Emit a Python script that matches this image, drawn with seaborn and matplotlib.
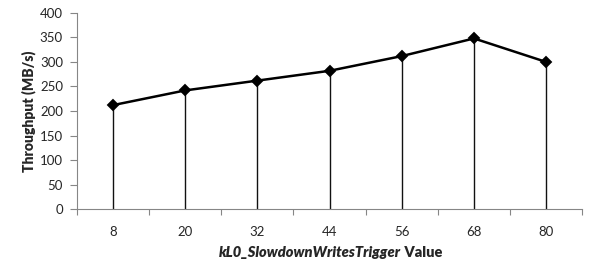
import numpy as np
import pandas as pd
import matplotlib
matplotlib.use('Agg')
import matplotlib.pyplot as plt
import seaborn as sns

categories = ['8', '20', '32', '44', '56', '68', '80']
throughput = [212, 242, 262, 282, 312, 348, 300]

sns.set_style('white')
plt.rcParams['font.family'] = ['Lato', 'DejaVu Sans']

df = pd.DataFrame({'trigger': categories, 'throughput': throughput})

fig = plt.figure(figsize=(5.96, 2.64), dpi=100)
ax = fig.add_axes([0.129, 0.208, 0.848, 0.743])

pos = np.arange(len(categories))
ax.vlines(pos, 0, df['throughput'], color='#111111', linewidth=1.0, zorder=1)
sns.pointplot(data=df, x='trigger', y='throughput', color='black', markers='D',
              linewidth=1.8, markersize=5.5, ax=ax, zorder=3)

ax.set_xlim(-0.5, len(categories) - 0.5)
ax.set_ylim(0, 400)
ax.set_yticks(range(0, 401, 50))
ax.set_xticks(pos)
ax.set_xticklabels(categories)
ax.set_xticks(np.arange(-0.5, len(categories)), minor=True)
ax.tick_params(axis='x', which='major', length=0, pad=12, labelsize=9.5)
ax.tick_params(axis='x', which='minor', length=4, direction='out', color='#868686', width=0.8)
ax.tick_params(axis='y', length=5, direction='out', color='#868686', width=0.8, labelsize=9.5, pad=5)
ax.tick_params(left=True, bottom=True, which='both')

for s in ['top', 'right']:
    ax.spines[s].set_visible(False)
for s in ['left', 'bottom']:
    ax.spines[s].set_color('#868686')
    ax.spines[s].set_linewidth(0.8)

ax.set_xlabel('')
ax.set_ylabel('Throughput (MB/s)', fontsize=10, fontweight='heavy', labelpad=3)

fig.text(401 / 596, 1 - 257 / 264, 'kL0_SlowdownWritesTrigger', fontsize=10.5,
         fontweight='heavy', fontstyle='italic', ha='right', va='baseline')
fig.text(401 / 596, 1 - 257 / 264, ' Value', fontsize=10.5,
         fontweight='heavy', ha='left', va='baseline')

fig.savefig('out.png', dpi=100)
